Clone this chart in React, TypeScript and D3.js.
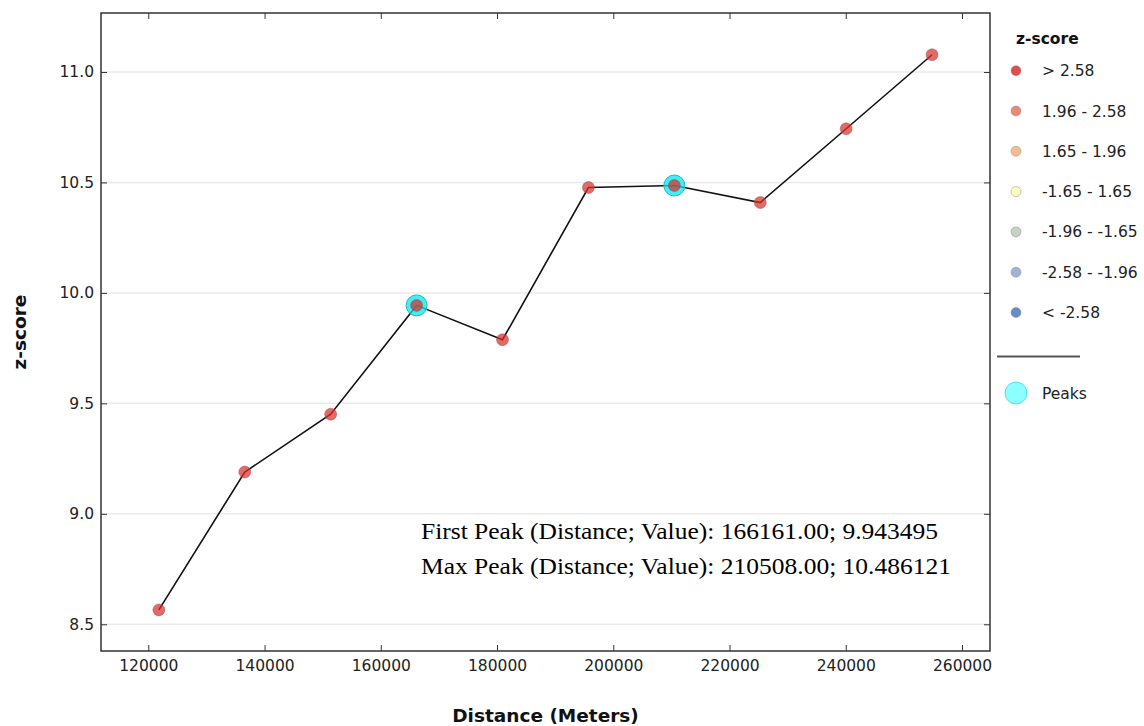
import React, { useRef, useEffect } from 'react'
import * as d3 from 'd3'

// profile points along the transect
const distances = [121815, 136597, 151379, 166161, 180943, 195726, 210508, 225290, 240072, 254854]
const zscores = [8.565, 9.189, 9.451, 9.943495, 9.788, 10.477, 10.486121, 10.409, 10.743, 11.078]
const peakIndex = [3, 6]

const xTicks = [120000, 140000, 160000, 180000, 200000, 220000, 240000, 260000]
const yTicks = [8.5, 9.0, 9.5, 10.0, 10.5, 11.0]

const legendLabels = ['> 2.58', '1.96 - 2.58', '1.65 - 1.96', '-1.65 - 1.65', '-1.96 - -1.65', '-2.58 - -1.96', '< -2.58']
const legendColors = ['#d7302c', '#e8745a', '#f7b07c', '#ffffb0', '#b9c9bc', '#8ea7c8', '#4a78b8']

const annotations = [
  'First Peak (Distance; Value): 166161.00; 9.943495',
  'Max Peak (Distance; Value): 210508.00; 10.486121',
]
const annotationWidths = [517, 530]

export default function App() {
  const svgRef = useRef<SVGSVGElement>(null)

  useEffect(() => {
    const svg = d3.select(svgRef.current)
    svg.selectAll('*').remove()

    const width = 1144, height = 726
    const margin = { top: 13, right: 154, bottom: 75, left: 101 }
    const w = width - margin.left - margin.right
    const h = height - margin.top - margin.bottom
    const sans = 'DejaVu Sans, sans-serif'

    svg.attr('width', width).attr('height', height)

    const g = svg.append('g').attr('transform', `translate(${margin.left},${margin.top})`)

    const x = d3.scaleLinear().domain([111860, 264820]).range([0, w])
    const y = d3.scaleLinear().domain([8.379, 11.267]).range([h, 0])

    // horizontal grid
    g.selectAll('.grid').data(yTicks).join('line')
      .attr('x1', 0).attr('x2', w)
      .attr('y1', d => y(d)).attr('y2', d => y(d))
      .attr('stroke', '#ebebeb').attr('stroke-width', 1.5)

    const styleAxis = (sel) => {
      sel.select('.domain').remove()
      sel.selectAll('.tick line').attr('stroke', '#333').attr('stroke-width', 1)
      sel.selectAll('text').attr('fill', '#222').attr('font-size', '15.5px').attr('font-family', sans)
    }

    g.append('g').attr('transform', `translate(0,${h})`)
      .call(d3.axisBottom(x).tickValues(xTicks).tickFormat(d3.format('d')).tickSize(-6).tickPadding(9))
      .call(styleAxis)
    g.append('g')
      .call(d3.axisTop(x).tickValues(xTicks).tickFormat(() => '').tickSize(-6))
      .call(styleAxis)
    g.append('g')
      .call(d3.axisLeft(y).tickValues(yTicks).tickFormat(d3.format('.1f')).tickSize(-6).tickPadding(7))
      .call(styleAxis)
    g.append('g').attr('transform', `translate(${w},0)`)
      .call(d3.axisRight(y).tickValues(yTicks).tickFormat(() => '').tickSize(-6))
      .call(styleAxis)

    g.append('rect').attr('width', w).attr('height', h)
      .attr('fill', 'none').attr('stroke', '#333').attr('stroke-width', 1.5)

    const pts = distances.map((d, i) => ({ d, z: zscores[i] }))

    g.append('path').datum(pts)
      .attr('d', d3.line<any>().x(p => x(p.d)).y(p => y(p.z)))
      .attr('fill', 'none').attr('stroke', '#111').attr('stroke-width', 1.6)

    g.selectAll('.peak').data(peakIndex.map(i => pts[i])).join('circle')
      .attr('cx', p => x(p.d)).attr('cy', p => y(p.z)).attr('r', 10.5)
      .attr('fill', '#00e8f0').attr('fill-opacity', 0.75)
      .attr('stroke', '#20b8c0').attr('stroke-width', 1)

    g.selectAll('.pt').data(pts).join('circle')
      .attr('cx', p => x(p.d)).attr('cy', p => y(p.z)).attr('r', 6)
      .attr('fill', '#d7302c').attr('fill-opacity', 0.72)
      .attr('stroke', '#a04040').attr('stroke-opacity', 0.5).attr('stroke-width', 0.8)

    annotations.forEach((t, i) => {
      g.append('text')
        .attr('x', 421 - margin.left).attr('y', 539 - margin.top + i * 35)
        .attr('font-family', 'Liberation Serif, Times New Roman, serif')
        .attr('font-size', '23px').attr('fill', '#000')
        .attr('textLength', annotationWidths[i]).attr('lengthAdjust', 'spacingAndGlyphs')
        .text(t)
    })

    // axis titles
    svg.append('text')
      .attr('x', margin.left + w / 2).attr('y', 722)
      .attr('text-anchor', 'middle').attr('font-family', sans)
      .attr('font-weight', 'bold').attr('font-size', '18.5px').attr('fill', '#111')
      .text('Distance (Meters)')
    svg.append('text')
      .attr('transform', 'rotate(-90)')
      .attr('x', -(margin.top + h / 2)).attr('y', 26)
      .attr('text-anchor', 'middle').attr('font-family', sans)
      .attr('font-weight', 'bold').attr('font-size', '18.5px').attr('fill', '#111')
      .text('z-score')

    // legend
    const legend = svg.append('g').attr('transform', 'translate(1016,0)')
    legend.append('text').attr('x', 0).attr('y', 44)
      .attr('font-family', sans).attr('font-weight', 'bold').attr('font-size', '15.5px').attr('fill', '#111')
      .text('z-score')
    legendLabels.forEach((lab, i) => {
      const cy = 70.7 + i * 40.3
      legend.append('circle').attr('cx', 0).attr('cy', cy).attr('r', 5)
        .attr('fill', legendColors[i]).attr('fill-opacity', 0.85)
        .attr('stroke', '#888').attr('stroke-opacity', 0.6).attr('stroke-width', 0.8)
      legend.append('text').attr('x', 26).attr('y', cy + 5.5)
        .attr('font-family', sans).attr('font-size', '15.5px').attr('fill', '#222')
        .text(lab)
    })
    legend.append('line').attr('x1', -19).attr('x2', 64).attr('y1', 356.5).attr('y2', 356.5)
      .attr('stroke', '#555').attr('stroke-width', 2)
    legend.append('circle').attr('cx', 0).attr('cy', 393).attr('r', 11)
      .attr('fill', '#00ffff').attr('fill-opacity', 0.45)
      .attr('stroke', '#40d8d8').attr('stroke-width', 0.8)
    legend.append('text').attr('x', 26).attr('y', 398.5)
      .attr('font-family', sans).attr('font-size', '15.5px').attr('fill', '#222')
      .text('Peaks')
  }, [])

  return <svg ref={svgRef} style={{ position: 'absolute', left: 0, top: 0 }} />
}
